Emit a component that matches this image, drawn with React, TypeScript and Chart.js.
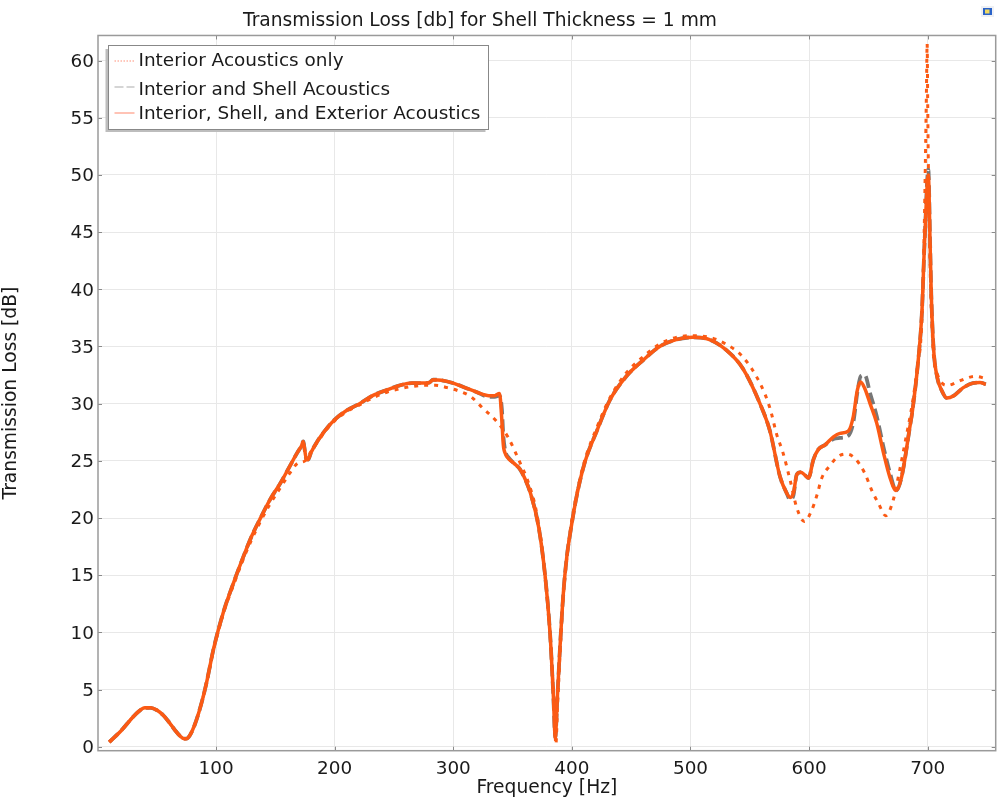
import React, { useEffect, useRef } from "react";
import { Chart, registerables } from "chart.js";

Chart.register(...registerables);

const chartTitle = "Transmission Loss [db] for Shell Thickness = 1 mm";
const xTitle = "Frequency [Hz]";
const yTitle = "Transmission Loss [dB]";
const legendLabels = [
  "Interior Acoustics only",
  "Interior and Shell Acoustics",
  "Interior, Shell, and Exterior Acoustics",
];

const freqInterior = [10, 20, 30, 35, 40, 45, 50, 55, 60, 65, 70, 73, 75, 78, 82, 88, 92, 98, 106, 115, 123, 130, 138, 146, 154, 162, 169, 175, 180, 186, 193, 200, 210, 221, 232, 244, 255, 265, 275, 285, 295, 305, 315, 325, 337, 346, 356, 363, 370, 375, 380, 383, 385, 386.5, 388, 390, 392.5, 395.5, 398.5, 404, 411, 421, 432, 446, 460, 474, 488, 502, 516, 530, 544, 559, 567, 572.7, 578, 584, 589.6, 596, 602.3, 606.6, 610.7, 617.7, 624.7, 631.8, 638.8, 647, 652.9, 658.4, 664.6, 671, 676, 682, 687, 691, 695, 697, 698, 699, 699.5, 700, 700.5, 702, 704.7, 707, 712, 717, 725, 732, 740, 749];
const valInterior = [0.4, 1.4, 2.6, 3.1, 3.4, 3.4, 3.2, 2.8, 2.2, 1.5, 0.9, 0.7, 0.7, 1.0, 1.9, 3.9, 5.6, 8.5, 11.6, 14.2, 16.4, 18.1, 19.8, 21.3, 22.6, 23.9, 24.8, 25, 25.8, 26.7, 27.7, 28.5, 29.3, 29.9, 30.5, 31, 31.3, 31.5, 31.6, 31.6, 31.4, 31.1, 30.6, 29.6, 28.4, 27.1, 24.9, 23.2, 20.6, 17.2, 12, 7.6, 3.6, 0.2, 3.8, 8, 12.8, 16.2, 18.8, 22.1, 25.1, 27.9, 30.5, 32.7, 34.1, 35.2, 35.8, 35.95, 35.8, 35.2, 34.1, 31.7, 29.6, 27.3, 25.7, 23.3, 20.9, 19.7, 20.7, 22, 23.5, 24.6, 25.4, 25.6, 25.2, 23.9, 22.4, 21.3, 20.2, 21.6, 24, 27.2, 30, 33, 37.2, 45, 51, 58, 61.5, 56, 51, 42, 34.4, 33, 31.8, 31.6, 31.9, 32.2, 32.4, 32.2];

const freqCoupled = [10, 20, 30, 35, 40, 45, 50, 55, 60, 65, 70, 73, 75, 78, 82, 88, 92, 98, 106, 115, 123, 130, 138, 146, 154, 162, 169, 172, 173.5, 175, 176, 177.6, 180, 186, 193, 200, 210, 221, 232, 244, 255, 265, 275, 280, 283, 290, 300, 310, 320, 330, 335, 339, 341, 342.2, 344, 346.5, 351, 356, 361, 365, 372, 377.5, 381.6, 384.4, 386, 387.8, 390, 392.8, 395.7, 398.5, 404, 411, 421, 432, 446, 460, 474, 488, 502, 516, 530, 544, 559, 567, 575.5, 581, 584, 586.8, 589.6, 593, 596, 599.5, 603.6, 607.8, 613.5, 620.5, 626, 633, 637.3, 640.7, 643.5, 647, 651.4, 657, 662.7, 668, 673.4, 678, 685, 687, 692, 695, 697.5, 700.5, 702, 703, 705, 708, 712, 716, 722, 730, 738, 744, 749];
const valShell = [0.4, 1.4, 2.6, 3.1, 3.4, 3.4, 3.2, 2.8, 2.2, 1.5, 0.9, 0.7, 0.7, 1.0, 1.9, 3.9, 5.6, 8.6, 11.7, 14.4, 16.6, 18.4, 20.1, 21.7, 23, 24.5, 25.8, 26.3, 26.7, 25.8, 25.2, 25.1, 25.7, 26.8, 27.8, 28.6, 29.4, 30, 30.7, 31.2, 31.6, 31.8, 31.8, 31.85, 32.1, 32.05, 31.8, 31.4, 31, 30.6, 30.6, 30.7, 29.5, 27.2, 25.8, 25.3, 24.8, 24.3, 23.3, 22.2, 19.2, 14.9, 9.9, 4.4, 0.8, 4.4, 8.7, 13.4, 16.6, 18.6, 21.9, 24.9, 27.6, 30.3, 32.4, 33.8, 35, 35.6, 35.8, 35.6, 34.7, 33.1, 29.9, 27.6, 23.6, 22.2, 21.6, 22, 23.8, 24, 23.8, 23.5, 25.1, 26, 26.4, 26.9, 27, 27.2, 28.4, 31, 32.4, 32.5, 30.9, 28.9, 26.2, 24, 22.4, 23.6, 28, 29.3, 33.8, 37.8, 44.5, 50.5, 44, 39.5, 34.7, 32.3, 31.1, 30.5, 30.7, 31.4, 31.8, 31.85, 31.7];
const valFull = [0.4, 1.4, 2.6, 3.1, 3.4, 3.4, 3.2, 2.8, 2.2, 1.5, 0.9, 0.7, 0.7, 1.0, 1.9, 3.9, 5.6, 8.6, 11.7, 14.4, 16.6, 18.4, 20.1, 21.7, 23, 24.5, 25.8, 26.3, 26.7, 25.8, 25.2, 25.1, 25.7, 26.8, 27.8, 28.6, 29.4, 30, 30.7, 31.2, 31.6, 31.8, 31.8, 31.85, 32.1, 32.05, 31.8, 31.4, 31, 30.7, 30.7, 30.9, 28.5, 26.4, 25.6, 25.2, 24.8, 24.3, 23.3, 22.2, 19.2, 14.9, 9.9, 4.4, 0.8, 4.4, 8.7, 13.4, 16.6, 18.6, 21.9, 24.9, 27.6, 30.3, 32.4, 33.8, 35, 35.6, 35.8, 35.6, 34.7, 33.1, 29.9, 27.6, 23.6, 22.2, 21.8, 22.2, 23.8, 24, 23.8, 23.5, 25.1, 26, 26.4, 27.1, 27.4, 27.6, 28.9, 31.2, 31.9, 31.3, 30, 28.3, 25.7, 23.6, 22.4, 23.6, 28, 29.3, 33.8, 37.8, 44.5, 50, 44, 39.5, 34.7, 32.3, 31.1, 30.5, 30.7, 31.4, 31.8, 31.85, 31.7];

const ORANGE = "#fb5a14";
const GRAY = "#777777";
const FONT = '"DejaVu Sans"';

const zip = (xs: number[], ys: number[]) => xs.map((x, i) => ({ x, y: ys[i] }));

const framePlugin = {
  id: "frame",
  afterLayout(chart: any) {
    // title is centred off the plot in the reference
    chart.titleBlock.left = 0;
    chart.titleBlock.right = 960;
  },
  afterDatasetsDraw(chart: any) {
    const { ctx, chartArea: a, scales } = chart;
    ctx.save();
    ctx.strokeStyle = "#8a8a8a";
    ctx.lineWidth = 1;
    ctx.beginPath();
    scales.x.ticks.forEach((t: any) => {
      const p = Math.round(scales.x.getPixelForValue(t.value)) + 0.5;
      ctx.moveTo(p, a.top); ctx.lineTo(p, a.top + 4);
      ctx.moveTo(p, a.bottom); ctx.lineTo(p, a.bottom - 4);
    });
    scales.y.ticks.forEach((t: any) => {
      const p = Math.round(scales.y.getPixelForValue(t.value)) + 0.5;
      ctx.moveTo(a.left, p); ctx.lineTo(a.left + 4, p);
      ctx.moveTo(a.right, p); ctx.lineTo(a.right - 4, p);
    });
    ctx.stroke();
    ctx.strokeStyle = "#9a9a9a";
    ctx.lineWidth = 1.5;
    ctx.strokeRect(a.left, a.top, a.right - a.left, a.bottom - a.top);

    // legend
    ctx.fillStyle = "#bdbdbd";
    ctx.fillRect(105.5, 49, 380, 83);
    ctx.fillStyle = "#ffffff";
    ctx.fillRect(108, 45.5, 380.5, 84);
    ctx.strokeStyle = "#888888";
    ctx.lineWidth = 1;
    ctx.strokeRect(108.5, 45.5, 380, 84);
    const rowsText = [61, 90.5, 114];
    const rowsLine = [61, 87, 113];
    const styles = [
      { c: "#ff8f78", d: [1.5, 1.5] },
      { c: "#ababab", d: [9, 3] },
      { c: "#ff9a84", d: [] as number[] },
    ];
    legendLabels.forEach((label, i) => {
      ctx.beginPath();
      ctx.strokeStyle = styles[i].c;
      ctx.lineWidth = 1.2;
      ctx.setLineDash(styles[i].d);
      ctx.moveTo(114.5, rowsLine[i]);
      ctx.lineTo(134.5, rowsLine[i]);
      ctx.stroke();
      ctx.setLineDash([]);
      ctx.fillStyle = "#1a1a1a";
      ctx.font = `18.45px ${FONT}`;
      ctx.textAlign = "left";
      ctx.textBaseline = "middle";
      ctx.fillText(label, 138.5, rowsText[i]);
    });

    // small corner badge
    ctx.fillStyle = "#eef0f4";
    ctx.fillRect(981, 6, 13, 11);
    ctx.fillStyle = "#2a62c8";
    ctx.fillRect(983, 8, 9, 7);
    ctx.fillStyle = "#f0d860";
    ctx.fillRect(985, 9.5, 4.5, 4);
    ctx.restore();
  },
};

export default function App() {
  const ref = useRef<HTMLCanvasElement>(null);
  useEffect(() => {
    if (!ref.current) return;
    const chart = new Chart(ref.current, {
      type: "line",
      data: {
        datasets: [
          {
            label: legendLabels[2],
            data: zip(freqCoupled, valFull),
            borderColor: ORANGE,
            borderWidth: 3.5,
            cubicInterpolationMode: "monotone",
            pointRadius: 0,
            order: 1,
          },
          {
            label: legendLabels[1],
            data: zip(freqCoupled, valShell),
            borderColor: GRAY,
            borderWidth: 3.8,
            borderDash: [12, 5],
            cubicInterpolationMode: "monotone",
            pointRadius: 0,
            order: 2,
          },
          {
            label: legendLabels[0],
            data: zip(freqInterior, valInterior),
            borderColor: ORANGE,
            borderWidth: 3,
            borderDash: [4, 6],
            cubicInterpolationMode: "monotone",
            pointRadius: 0,
            order: 0,
          },
        ],
      } as any,
      options: {
        responsive: false,
        animation: false,
        devicePixelRatio: 1,
        layout: { padding: { right: 4.3 } },
        plugins: {
          legend: { display: false },
          tooltip: { enabled: false },
          title: {
            display: true,
            text: chartTitle,
            color: "#1a1a1a",
            font: { family: FONT, size: 18.65, weight: "normal", lineHeight: 1.2 },
            padding: { top: 10, bottom: 3.1 },
          },
        },
        scales: {
          x: {
            type: "linear",
            min: 0.5,
            max: 757.3,
            afterFit: (s: any) => { s.height = 49.3; },
            grid: { color: "#e8e8e8", lineWidth: 1, drawTicks: false },
            border: { display: false },
            ticks: { stepSize: 100, includeBounds: false, maxRotation: 0, color: "#1a1a1a", padding: 7, font: { family: FONT, size: 18.4 } },
            title: { display: true, text: xTitle, color: "#1a1a1a", font: { family: FONT, size: 18.7 }, padding: { top: 0, bottom: 1 } },
          },
          y: {
            type: "linear",
            min: -0.35,
            max: 62.2,
            afterFit: (s: any) => { s.width = 98; },
            grid: { color: "#e8e8e8", lineWidth: 1, drawTicks: false },
            border: { display: false },
            ticks: { stepSize: 5, includeBounds: false, autoSkip: false, color: "#1a1a1a", padding: 4, labelOffset: 1.5, font: { family: FONT, size: 18.4 } },
            title: { display: true, text: yTitle, color: "#1a1a1a", font: { family: FONT, size: 18.7 }, padding: { top: 0, bottom: 0 } },
          },
        },
      } as any,
      plugins: [framePlugin],
    });
    return () => chart.destroy();
  }, []);
  return (
    <div style={{ position: "absolute", left: 0, top: 0, width: 1000, height: 800, background: "#fff" }}>
      <canvas ref={ref} width={1000} height={800} style={{ display: "block" }} />
    </div>
  );
}
